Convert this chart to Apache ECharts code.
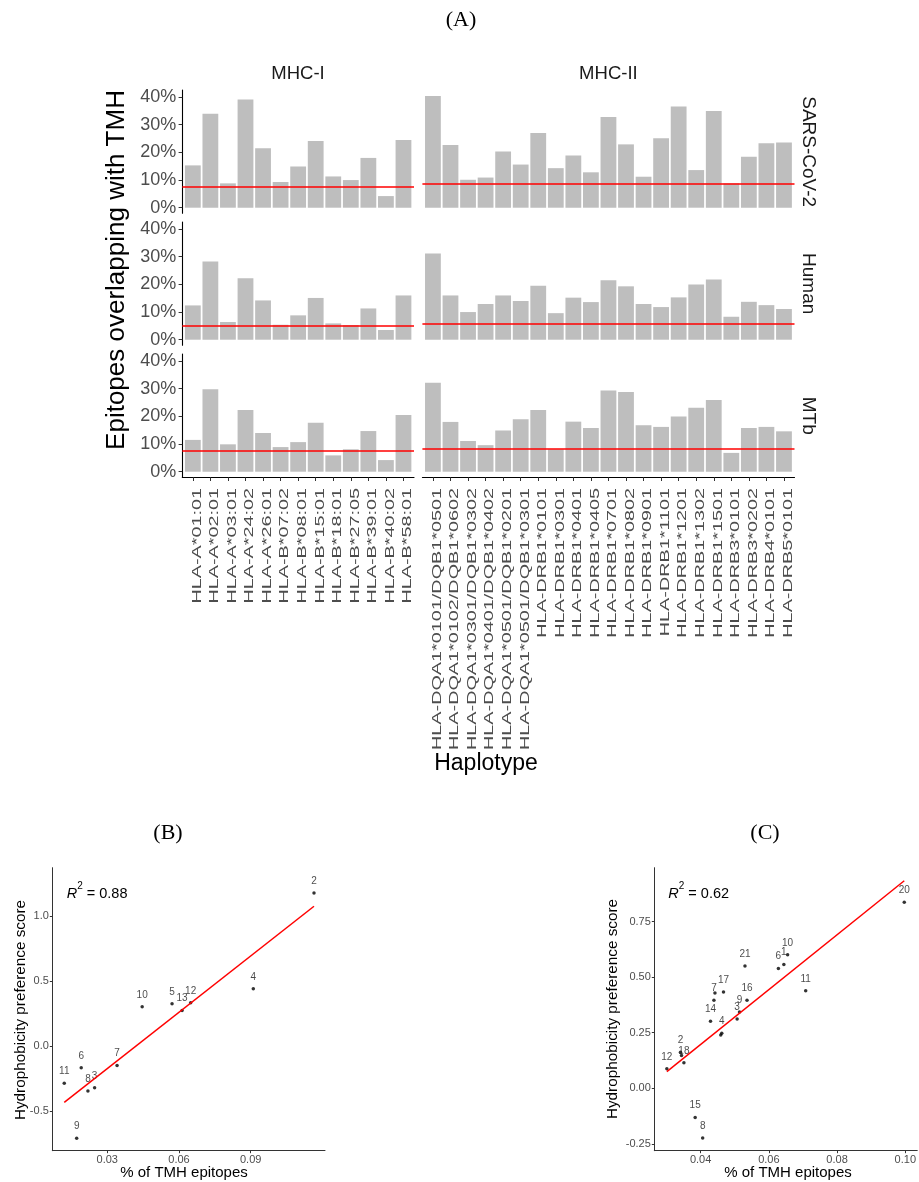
<!DOCTYPE html>
<html>
<head>
<meta charset="utf-8">
<script src="https://cdn.jsdelivr.net/npm/echarts@6/dist/echarts.min.js"></script>
<style>
  html, body { margin: 0; padding: 0; background: #ffffff; }
  #chart { width: 919px; height: 1182px; }
</style>
</head>
<body>
<div id="chart"></div>
<script>
// ---------- data ----------
const mhc1Alleles = ['HLA-A*01:01', 'HLA-A*02:01', 'HLA-A*03:01', 'HLA-A*24:02', 'HLA-A*26:01',
  'HLA-B*07:02', 'HLA-B*08:01', 'HLA-B*15:01', 'HLA-B*18:01', 'HLA-B*27:05', 'HLA-B*39:01',
  'HLA-B*40:02', 'HLA-B*58:01'];
const mhc2Alleles = ['HLA-DQA1*0101/DQB1*0501', 'HLA-DQA1*0102/DQB1*0602', 'HLA-DQA1*0301/DQB1*0302',
  'HLA-DQA1*0401/DQB1*0402', 'HLA-DQA1*0501/DQB1*0201', 'HLA-DQA1*0501/DQB1*0301',
  'HLA-DRB1*0101', 'HLA-DRB1*0301', 'HLA-DRB1*0401', 'HLA-DRB1*0405', 'HLA-DRB1*0701',
  'HLA-DRB1*0802', 'HLA-DRB1*0901', 'HLA-DRB1*1101', 'HLA-DRB1*1201', 'HLA-DRB1*1302',
  'HLA-DRB1*1501', 'HLA-DRB3*0101', 'HLA-DRB3*0202', 'HLA-DRB4*0101', 'HLA-DRB5*0101'];

const organisms = ['SARS-CoV-2', 'Human', 'MTb'];

// % of epitopes overlapping with TMH, per organism
const sarsMhc1  = [15.3, 34.0, 8.8, 39.1, 21.5, 9.3, 14.9, 24.1, 11.3, 10.0, 18.0, 4.2, 24.5];
const humanMhc1 = [12.4, 28.3, 6.4, 22.2, 14.2, 5.4, 8.8, 15.1, 5.9, 5.3, 11.3, 3.5, 16.0];
const mtbMhc1   = [11.5, 29.8, 9.9, 22.3, 14.0, 8.9, 10.7, 17.7, 5.9, 8.1, 14.7, 4.2, 20.5];

const sarsMhc2  = [40.4, 22.7, 10.1, 10.9, 20.3, 15.6, 27.0, 14.3, 18.9, 12.8, 32.8, 22.9, 11.2,
  25.1, 36.6, 13.6, 35.0, 8.8, 18.4, 23.3, 23.6];
const humanMhc2 = [31.2, 16.0, 10.0, 12.9, 16.0, 14.0, 19.5, 9.6, 15.2, 13.6, 21.5, 19.3, 12.9,
  11.8, 15.3, 20.0, 21.8, 8.3, 13.7, 12.5, 11.1];
const mtbMhc2   = [32.2, 18.0, 11.1, 9.6, 14.9, 19.0, 22.3, 8.1, 18.1, 15.8, 29.4, 28.8, 16.8,
  16.2, 20.0, 23.1, 25.9, 6.8, 15.8, 16.2, 14.6];

// reference level (red line) per organism
const mhc1Reference = [7.6, 5.2, 7.6];
const mhc2Reference = [8.6, 5.9, 8.4];

const pctTicks = [0, 10, 20, 30, 40];

// (B) MHC-I: % of TMH epitopes vs hydrophobicity preference score
const bIds   = ['2', '4', '5', '13', '12', '10', '7', '6', '11', '8', '3', '9'];
const bTmh   = [0.1165, 0.0911, 0.0571, 0.0613, 0.0649, 0.0446, 0.0341, 0.0191, 0.0120, 0.0219, 0.0247, 0.0172];
const bScore = [1.177, 0.441, 0.325, 0.274, 0.333, 0.302, -0.149, -0.167, -0.287, -0.346, -0.321, -0.710];
const bXTicks = [0.03, 0.06, 0.09];
const bYTicks = [-0.5, 0, 0.5, 1.0];

// (C) MHC-II
const cIds   = ['20', '10', '1', '6', '21', '11', '17', '5', '7', '16', '9', '3', '14', '4', '13',
  '2', '19', '18', '12', '15', '8'];
const cTmh   = [0.0997, 0.0655, 0.0644, 0.0628, 0.0530, 0.0708, 0.0467, 0.0442, 0.0439, 0.0536,
  0.0514, 0.0507, 0.0429, 0.0462, 0.0459, 0.0341, 0.0344, 0.0351, 0.0301, 0.0384, 0.0406];
const cScore = [0.836, 0.601, 0.557, 0.539, 0.550, 0.439, 0.433, 0.428, 0.396, 0.396, 0.343,
  0.312, 0.301, 0.247, 0.240, 0.162, 0.148, 0.115, 0.088, -0.131, -0.223];
const cHiddenLabels = ['5', '13', '19'];   // labels dropped where they would overlap
const cXTicks = [0.04, 0.06, 0.08, 0.10];
const cYTicks = [-0.25, 0, 0.25, 0.5, 0.75];

// ---------- layout ----------
const SANS = '"Liberation Sans", Arial, Helvetica, sans-serif';
const SERIF = '"Liberation Serif", "DejaVu Serif", serif';
const TICK_TXT = '#4D4D4D';

const ROW_TOP = [90.1, 222.1, 354.1];
const ROW_H = 123.2;
const COLS = [
  { left: 182.3, width: 231.7, cats: mhc1Alleles, values: [sarsMhc1, humanMhc1, mtbMhc1], ref: mhc1Reference },
  { left: 422.4, width: 372.1, cats: mhc2Alleles, values: [sarsMhc2, humanMhc2, mtbMhc2], ref: mhc2Reference }
];
const Y_MIN = -2.025, Y_MAX = 42.525;
const BAR_W = 15.8;
const LABEL_TOP = 488;

const grids = [], xAxes = [], yAxes = [], series = [];

COLS.forEach((col, c) => {
  const n = col.cats.length;
  const idx = col.cats.map((_, i) => i + 1);
  ROW_TOP.forEach((top, r) => {
    const g = grids.length;
    const bottomRow = r === ROW_TOP.length - 1;
    grids.push({ left: col.left, top: top, width: col.width, height: ROW_H });
    xAxes.push({
      type: 'value', gridIndex: g, min: 0.4, max: n + 0.6,
      axisLine: { show: bottomRow, onZero: false, lineStyle: { color: '#000', width: 1.1 } },
      axisTick: { show: bottomRow, customValues: idx, length: 3.7, lineStyle: { color: '#333', width: 1 } },
      axisLabel: { show: false },
      splitLine: { show: false }
    });
    yAxes.push({
      type: 'value', gridIndex: g, min: Y_MIN, max: Y_MAX,
      show: c === 0,
      axisLine: { show: true, onZero: false, lineStyle: { color: '#000', width: 1.1 } },
      axisTick: { show: true, customValues: pctTicks, length: 3.7, lineStyle: { color: '#333', width: 1 } },
      axisLabel: {
        customValues: pctTicks, formatter: v => v + '%', margin: 6,
        fontSize: 18, color: TICK_TXT, fontFamily: SANS
      },
      splitLine: { show: false }
    });
    series.push({
      type: 'bar', xAxisIndex: g, yAxisIndex: g, silent: true,
      barWidth: BAR_W,
      data: col.values[r].map((v, i) => [i + 1, v]),
      itemStyle: { color: '#BEBEBE' },
      markLine: {
        silent: true, symbol: ['none', 'none'], label: { show: false },
        lineStyle: { color: '#FF0000', width: 1.6, type: 'solid' },
        data: [{ yAxis: col.ref[r] }]
      }
    });
    if (bottomRow) {
      // rotated allele names under the bottom panels
      series.push({
        type: 'custom', xAxisIndex: g, yAxisIndex: g, silent: true, clip: false,
        data: col.cats.map((_, i) => [i + 1, 0]),
        renderItem: (params, api) => {
          const k = api.value(0);
          const p = api.coord([k, 0]);
          return {
            type: 'text', x: p[0] + 4.5, y: LABEL_TOP, rotation: Math.PI / 2, scaleX: 1.65,
            style: {
              text: col.cats[k - 1], fontSize: 12, fontFamily: SANS, fill: TICK_TXT,
              align: 'right', verticalAlign: 'middle'
            }
          };
        }
      });
    }
  });
});

// least-squares fit drawn across the range of the points
function fitLine(xs, ys) {
  const n = xs.length;
  const mx = xs.reduce((a, b) => a + b, 0) / n;
  const my = ys.reduce((a, b) => a + b, 0) / n;
  let sxy = 0, sxx = 0;
  for (let i = 0; i < n; i++) { sxy += (xs[i] - mx) * (ys[i] - my); sxx += (xs[i] - mx) ** 2; }
  const slope = sxy / sxx, icpt = my - slope * mx;
  const x0 = Math.min(...xs), x1 = Math.max(...xs);
  return [[x0, icpt + slope * x0], [x1, icpt + slope * x1]];
}

function scatterPanel(g, grid, xr, yr, xTicks, yTicks, xDigits, yDigits, ids, xs, ys, hidden) {
  grids.push(grid);
  xAxes.push({
    type: 'value', gridIndex: g, min: xr[0], max: xr[1],
    axisLine: { onZero: false, lineStyle: { color: '#333', width: 1 } },
    axisTick: { customValues: xTicks, length: 2.5, lineStyle: { color: '#333' } },
    axisLabel: { customValues: xTicks, formatter: v => v.toFixed(xDigits), margin: 4,
      fontSize: 11, color: TICK_TXT, fontFamily: SANS },
    splitLine: { show: false }
  });
  yAxes.push({
    type: 'value', gridIndex: g, min: yr[0], max: yr[1],
    axisLine: { onZero: false, lineStyle: { color: '#333', width: 1 } },
    axisTick: { customValues: yTicks, length: 2.5, lineStyle: { color: '#333' } },
    axisLabel: { customValues: yTicks, formatter: v => v.toFixed(yDigits), margin: 3.5,
      fontSize: 11, color: TICK_TXT, fontFamily: SANS },
    splitLine: { show: false }
  });
  series.push({
    type: 'line', xAxisIndex: g, yAxisIndex: g, silent: true, symbol: 'none',
    data: fitLine(xs, ys), lineStyle: { color: '#FF0000', width: 1.5 }
  });
  series.push({
    type: 'scatter', xAxisIndex: g, yAxisIndex: g, silent: true, symbolSize: 3.5,
    itemStyle: { color: '#000' },
    label: { show: true, position: 'top', distance: 5, formatter: p => p.name,
      fontSize: 10, color: '#1A1A1A', fontFamily: SANS },
    data: ids.map((id, i) => ({
      name: id, value: [xs[i], ys[i]],
      label: { show: !(hidden || []).includes(id) }
    }))
  });
}

scatterPanel(6, { left: 52.3, top: 867.7, width: 272.7, height: 283 },
  [0.007, 0.1211], [-0.805, 1.3715], bXTicks, bYTicks, 2, 1, bIds, bTmh, bScore, []);
scatterPanel(7, { left: 654.3, top: 867.7, width: 269, height: 283 },
  [0.02642, 0.1035], [-0.2806, 0.9919], cXTicks, cYTicks, 2, 2, cIds, cTmh, cScore, cHiddenLabels);

// ---------- titles and strip labels ----------
function txt(text, x, y, size, opts) {
  opts = opts || {};
  return {
    type: 'text', x: x, y: y, rotation: opts.rotation || 0, silent: true, z: 10,
    style: {
      text: text, fontSize: size, fontFamily: opts.family || SANS, fill: opts.color || '#000',
      align: opts.align || 'center', verticalAlign: 'middle', rich: opts.rich
    }
  };
}
const rSquaredRich = {
  i: { fontStyle: 'italic', fontSize: 14.5, fontFamily: SANS, fill: '#000', verticalAlign: 'bottom', lineHeight: 20 },
  s: { fontSize: 10, fontFamily: SANS, fill: '#000', verticalAlign: 'top', lineHeight: 20 },
  n: { fontSize: 14.5, fontFamily: SANS, fill: '#000', verticalAlign: 'bottom', lineHeight: 20 }
};

const graphics = [
  txt('(A)', 461, 20, 22, { family: SERIF }),
  txt('MHC-I', 298, 74, 18.5, { color: '#1A1A1A' }),
  txt('MHC-II', 608.4, 74, 18.5, { color: '#1A1A1A' }),
  txt('Epitopes overlapping with TMH', 117, 270, 26, { rotation: Math.PI / 2 }),
  txt('Haplotype', 486, 764, 23),
  txt('(B)', 168, 833, 22, { family: SERIF }),
  txt('(C)', 765, 833, 22, { family: SERIF }),
  txt('Hydrophobicity preference score', 20.5, 1010, 15.3, { rotation: Math.PI / 2 }),
  txt('Hydrophobicity preference score', 613, 1009, 15.3, { rotation: Math.PI / 2 }),
  txt('% of TMH epitopes', 184, 1173, 15),
  txt('% of TMH epitopes', 788, 1173, 15),
  txt('{i|R}{s|2}{n| = 0.88}', 66.7, 891.5, 14.5, { align: 'left', rich: rSquaredRich }),
  txt('{i|R}{s|2}{n| = 0.62}', 668.3, 891, 14.5, { align: 'left', rich: rSquaredRich })
];
organisms.forEach((name, r) => {
  graphics.push(txt(name, 808, ROW_TOP[r] + ROW_H / 2, 19, { rotation: -Math.PI / 2, color: '#1A1A1A' }));
});

const chart = echarts.init(document.getElementById('chart'), null, { renderer: 'canvas' });
chart.setOption({
  animation: false,
  backgroundColor: '#ffffff',
  grid: grids,
  xAxis: xAxes,
  yAxis: yAxes,
  series: series,
  graphic: graphics
});
</script>
</body>
</html>
